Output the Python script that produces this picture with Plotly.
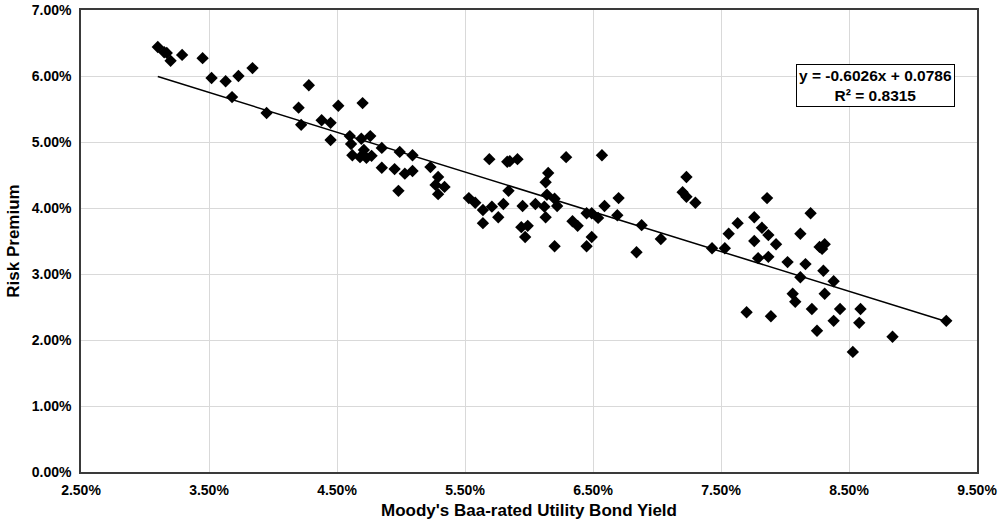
import numpy as np
import plotly.graph_objects as go

# Moody's Baa-rated utility bond yield (%) and risk premium (%)
bond_yield = [3.10, 3.15, 3.17, 3.20, 3.29, 3.45, 3.52, 3.63, 3.73, 3.84,
              3.68, 3.95, 4.28, 4.20, 4.51, 4.70, 4.22, 4.38, 4.45, 4.45,
              4.60, 4.69, 4.76, 4.61, 4.85, 4.62, 4.68, 4.73, 4.77, 4.85,
              4.95, 4.99, 4.71, 5.09, 5.03, 5.09, 4.98, 5.23, 5.29, 5.27,
              5.34, 5.29, 5.53, 5.58, 5.64, 5.71, 5.76, 5.64, 5.69, 5.83,
              5.85, 5.91, 6.29, 6.57, 6.15, 6.13, 5.84, 5.80, 5.95, 6.05,
              6.14, 6.20, 6.12, 6.22, 6.13, 5.94, 5.99, 5.97, 6.20, 6.34,
              6.38, 6.45, 6.49, 6.54, 6.59, 6.70, 6.69, 6.49, 6.45, 6.88,
              6.84, 7.03, 7.23, 7.20, 7.23, 7.30, 7.43, 7.53, 7.63, 7.56,
              7.76, 7.86, 7.82, 7.87, 7.76, 7.93, 7.79, 7.87, 8.02, 8.20,
              8.12, 8.27, 8.31, 8.29, 8.16, 8.12, 8.30, 8.38, 8.06, 8.08,
              8.31, 8.21, 8.43, 8.59, 8.38, 8.58, 7.70, 7.89, 8.25, 8.53,
              8.84, 9.26]
risk_premium = [6.44, 6.36, 6.35, 6.23, 6.32, 6.27, 5.97, 5.92, 6.00, 6.12,
                5.68, 5.44, 5.86, 5.52, 5.55, 5.59, 5.26, 5.33, 5.29, 5.03,
                5.09, 5.05, 5.09, 4.97, 4.91, 4.80, 4.77, 4.76, 4.79, 4.61,
                4.59, 4.85, 4.88, 4.80, 4.52, 4.56, 4.26, 4.62, 4.47, 4.35,
                4.32, 4.21, 4.15, 4.08, 3.97, 4.02, 3.86, 3.77, 4.74, 4.70,
                4.71, 4.74, 4.77, 4.80, 4.53, 4.39, 4.26, 4.06, 4.03, 4.06,
                4.20, 4.14, 4.02, 4.03, 3.86, 3.71, 3.73, 3.56, 3.42, 3.80,
                3.73, 3.92, 3.92, 3.85, 4.03, 4.15, 3.89, 3.56, 3.42, 3.74,
                3.33, 3.53, 4.47, 4.24, 4.17, 4.08, 3.39, 3.39, 3.77, 3.61,
                3.86, 4.15, 3.70, 3.59, 3.50, 3.45, 3.24, 3.26, 3.18, 3.92,
                3.61, 3.41, 3.45, 3.38, 3.15, 2.95, 3.05, 2.89, 2.70, 2.58,
                2.70, 2.47, 2.47, 2.47, 2.29, 2.26, 2.42, 2.36, 2.14, 1.82,
                2.05, 2.29]

# Linear trendline as shown on the chart
slope = -0.6026
intercept = 0.0786
equation_lines = ["y = -0.6026x + 0.0786", "R² = 0.8315"]

x_title = "Moody's Baa-rated Utility Bond Yield"
y_title = "Risk Premium"

x = np.array(bond_yield) / 100.0
y = np.array(risk_premium) / 100.0
x_line = np.array([x.min(), x.max()])
y_line = slope * x_line + intercept

font_family = "Liberation Sans, Arial, sans-serif"

fig = go.Figure()
fig.add_trace(go.Scatter(
    x=x_line, y=y_line, mode="lines",
    line=dict(color="black", width=1.5),
    hoverinfo="skip", showlegend=False))
fig.add_trace(go.Scatter(
    x=x, y=y, mode="markers",
    marker=dict(symbol="diamond", size=9.5, color="black",
                line=dict(width=0)),
    showlegend=False))

fig.add_annotation(
    x=0.0871, y=0.0586, xref="x", yref="y",
    text="<br>".join("<b>" + s + "</b>" for s in equation_lines),
    showarrow=False, align="center",
    font=dict(family=font_family, size=15.5, color="black"),
    bgcolor="white", bordercolor="black", borderwidth=1, borderpad=2)

fig.update_layout(
    width=1001, height=532,
    margin=dict(l=81, r=24, t=10, b=60, autoexpand=False),
    paper_bgcolor="white", plot_bgcolor="white",
    font=dict(family=font_family, color="black"),
    xaxis=dict(
        range=[0.025, 0.095], tick0=0.025, dtick=0.01, tickformat=".2%",
        showgrid=True, gridcolor="#d9d9d9", gridwidth=1, automargin=False,
        zeroline=False, showline=True, linecolor="#3a3a3a", linewidth=1.5,
        mirror=True, ticks="", ticklabelstandoff=4,
        tickfont=dict(family=font_family, size=14, color="black", weight="bold"),
        title=dict(text="<b>" + x_title + "</b>", standoff=8,
                   font=dict(family=font_family, size=17, color="black"))),
    yaxis=dict(
        range=[0, 0.07], dtick=0.01, tickformat=".2%",
        showgrid=True, gridcolor="#d9d9d9", gridwidth=1, automargin=False,
        zeroline=False, showline=True, linecolor="#3a3a3a", linewidth=1.5,
        mirror=True, ticks="", ticklabelstandoff=5,
        tickfont=dict(family=font_family, size=14, color="black", weight="bold"),
        title=dict(text="<b>" + y_title + "</b>", standoff=8,
                   font=dict(family=font_family, size=17, color="black"))),
)

fig.write_html("out.html", config={"displayModeBar": False},
               post_script="document.body.style.margin='0';document.body.style.padding='0';")
